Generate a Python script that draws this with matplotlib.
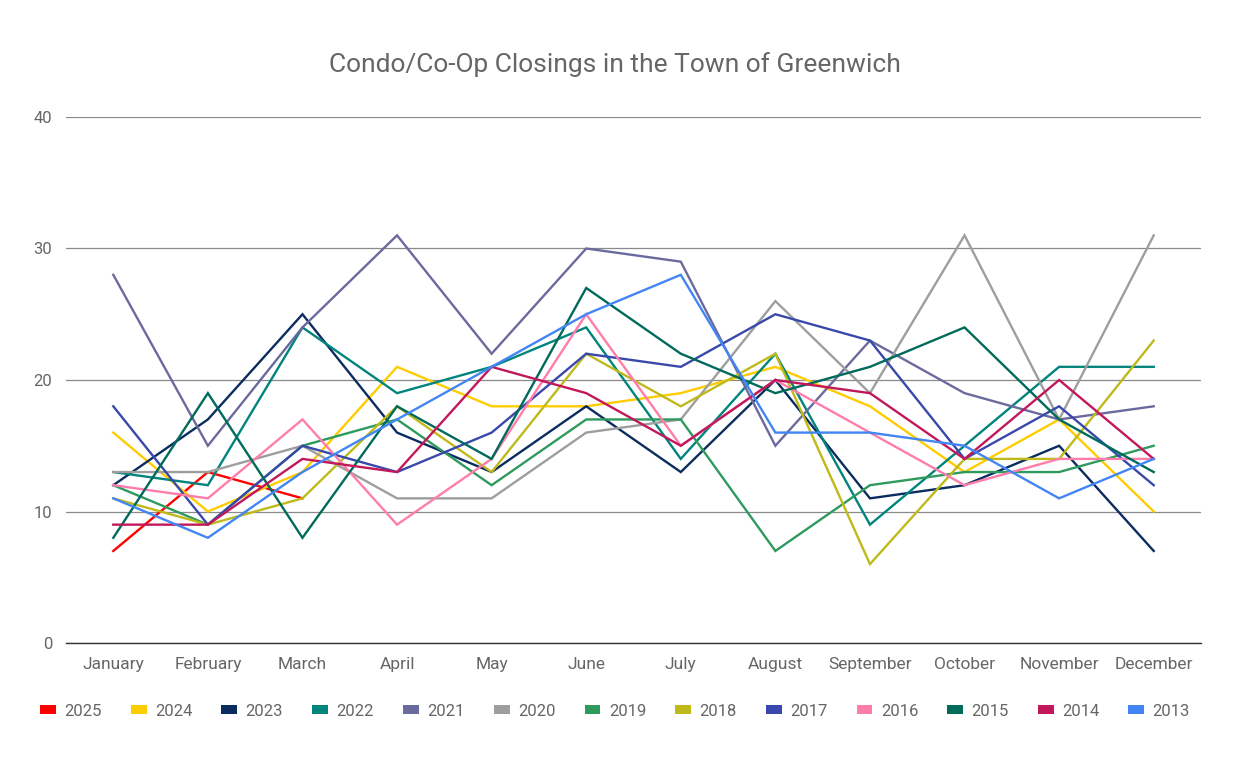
#!/usr/bin/env python3

import matplotlib.pyplot as plt
from matplotlib.patches import Patch

plt.rcParams['font.family'] = ['Roboto', 'DejaVu Sans']

months = ["January", "February", "March", "April", "May", "June",
          "July", "August", "September", "October", "November", "December"]

years = ["2025", "2024", "2023", "2022", "2021", "2020", "2019",
         "2018", "2017", "2016", "2015", "2014", "2013"]

closings_2025 = [7, 13, 11]
closings_2024 = [16, 10, 13, 21, 18, 18, 19, 21, 18, 13, 17, 10]
closings_2023 = [12, 17, 25, 16, 13, 18, 13, 20, 11, 12, 15, 7]
closings_2022 = [13, 12, 24, 19, 21, 24, 14, 22, 9, 15, 21, 21]
closings_2021 = [28, 15, 24, 31, 22, 30, 29, 15, 23, 19, 17, 18]
closings_2020 = [13, 13, 15, 11, 11, 16, 17, 26, 19, 31, 17, 31]
closings_2019 = [12, 9, 15, 17, 12, 17, 17, 7, 12, 13, 13, 15]
closings_2018 = [11, 9, 11, 18, 13, 22, 18, 22, 6, 14, 14, 23]
closings_2017 = [18, 9, 15, 13, 16, 22, 21, 25, 23, 14, 18, 12]
closings_2016 = [12, 11, 17, 9, 14, 25, 15, 20, 16, 12, 14, 14]
closings_2015 = [8, 19, 8, 18, 14, 27, 22, 19, 21, 24, 17, 13]
closings_2014 = [9, 9, 14, 13, 21, 19, 15, 20, 19, 14, 20, 14]
closings_2013 = [11, 8, 13, 17, 21, 25, 28, 16, 16, 15, 11, 14]

series = [closings_2025, closings_2024, closings_2023, closings_2022,
          closings_2021, closings_2020, closings_2019, closings_2018,
          closings_2017, closings_2016, closings_2015, closings_2014,
          closings_2013]

colors = ["#ff0000", "#ffcc00", "#0b2c5f", "#00847c", "#6b6a9e",
          "#9e9e9e", "#2e9a5e", "#bfba1a", "#3949ab", "#ff7dab",
          "#006a5b", "#c2185b", "#4285f4"]

fig = plt.figure(figsize=(12.4, 7.76), dpi=100)
ax = fig.add_axes([66 / 1240, 133 / 776, 1135 / 1240, 526 / 776])

for year, values, color in zip(years, series, colors):
    ax.plot(months[:len(values)], values, color=color, lw=1.7,
            solid_joinstyle='miter', label=year)

ax.set_xlim(-0.5, 11.5)
ax.set_ylim(0, 40)
ax.set_yticks([0, 10, 20, 30, 40])
ax.grid(axis='y', color='#8a8a8a', lw=0.9)
ax.set_axisbelow(True)
for side in ['top', 'right', 'left']:
    ax.spines[side].set_visible(False)
ax.spines['bottom'].set_color('#333333')
ax.spines['bottom'].set_linewidth(1.0)
ax.tick_params(axis='x', length=0, labelsize=12.5, labelcolor='#666666', pad=10)
ax.tick_params(axis='y', length=0, labelsize=12, labelcolor='#666666', pad=10)

# title is centred on the figure, not the plot area
fig.text(615 / 1240, 1 - 65 / 776, "Condo/Co-Op Closings in the Town of Greenwich",
         fontsize=19, color='#666666', ha='center', va='center')

handles = [Patch(facecolor=c, edgecolor='none') for c in colors]
fig.legend(handles, years, loc='center', bbox_to_anchor=(615 / 1240, 1 - 711 / 776),
           ncol=len(years), frameon=False, fontsize=12, labelcolor='#666666',
           handlelength=0.95, handleheight=0.45, handletextpad=0.5,
           columnspacing=1.75)

plt.savefig("out.png", dpi=100)
